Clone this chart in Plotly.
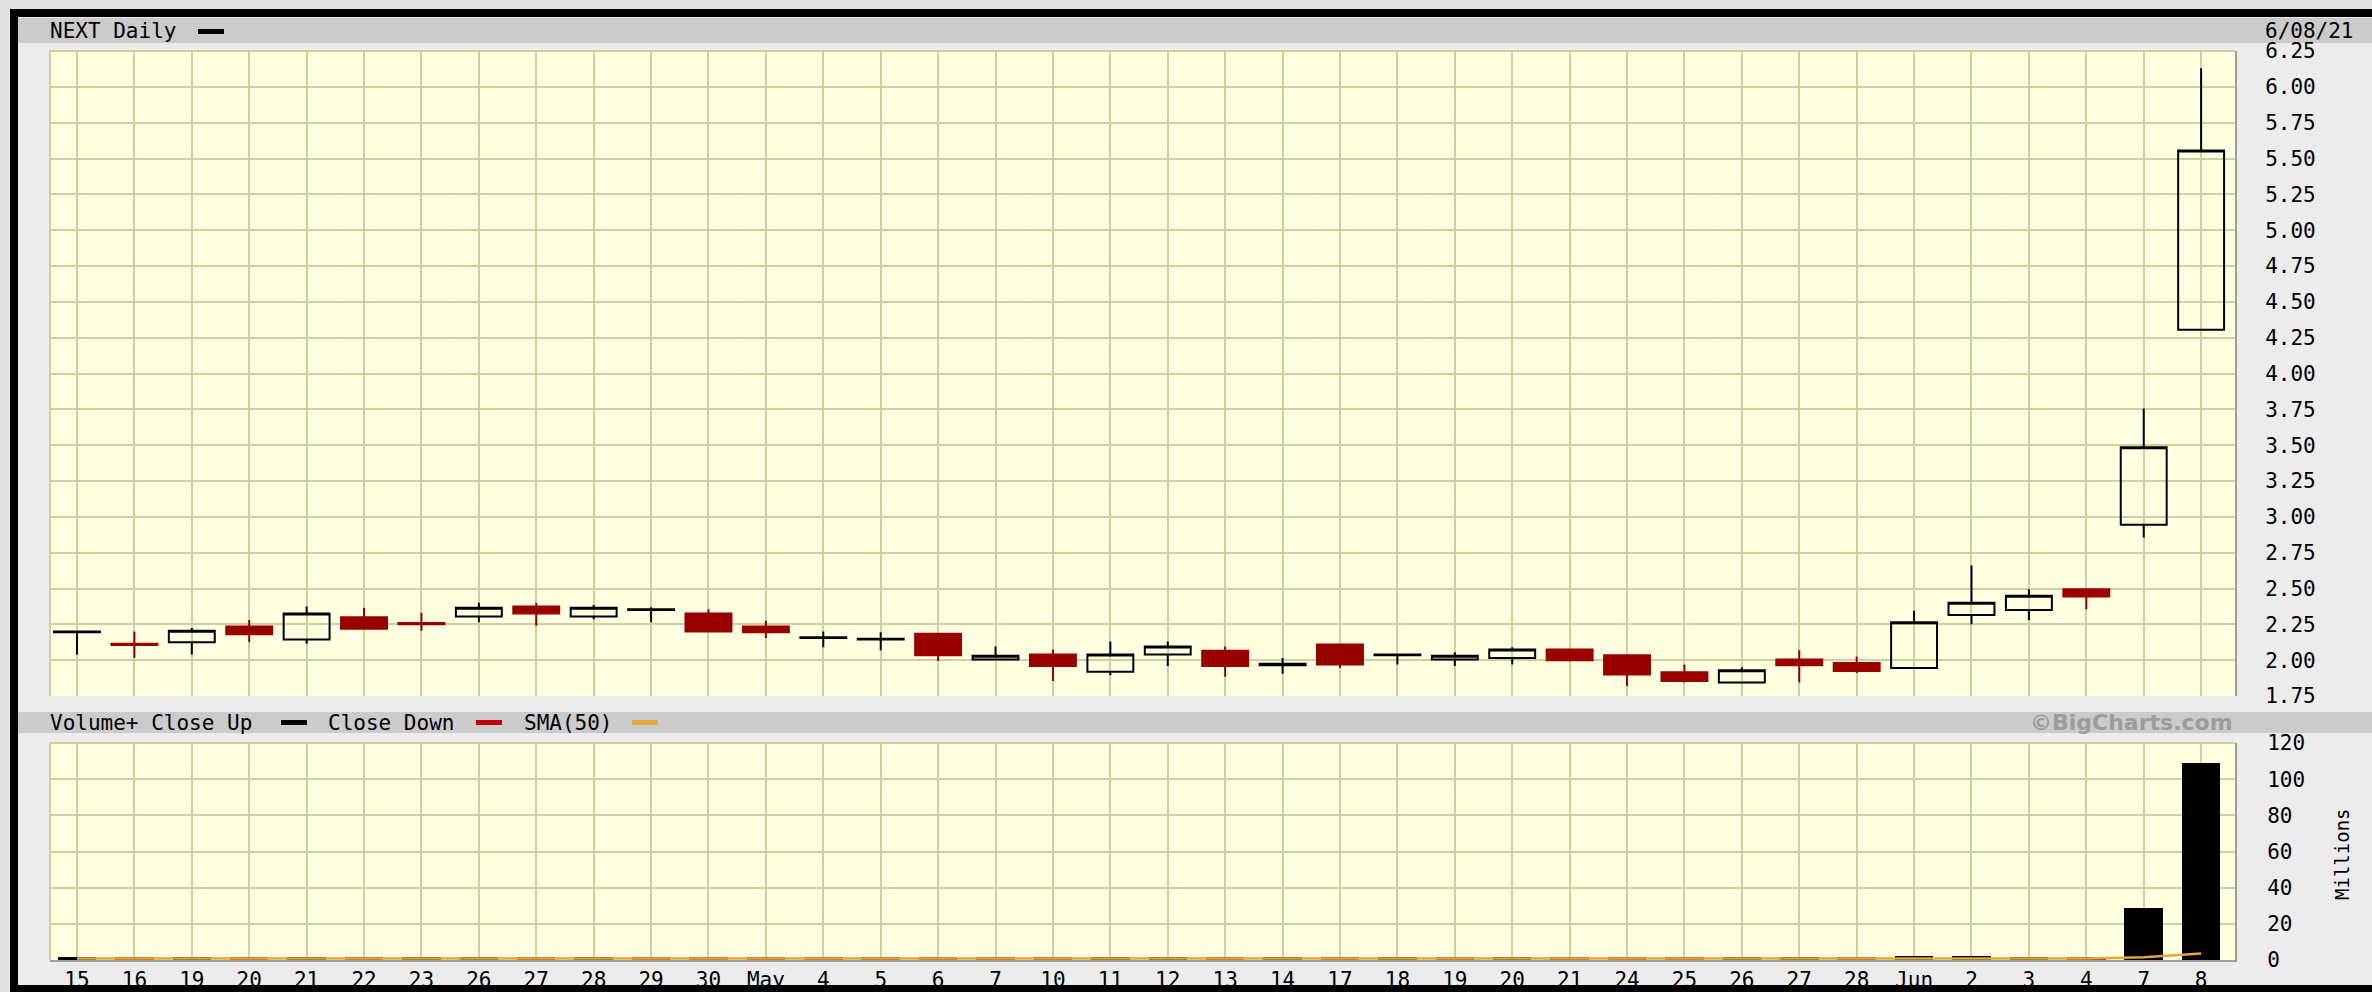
import plotly.graph_objects as go

W, H = 2372, 992

# ---------------- data ----------------
dates = ["2021-04-15", "2021-04-16", "2021-04-19", "2021-04-20", "2021-04-21", "2021-04-22",
         "2021-04-23", "2021-04-26", "2021-04-27", "2021-04-28", "2021-04-29", "2021-04-30",
         "2021-05-03", "2021-05-04", "2021-05-05", "2021-05-06", "2021-05-07", "2021-05-10",
         "2021-05-11", "2021-05-12", "2021-05-13", "2021-05-14", "2021-05-17", "2021-05-18",
         "2021-05-19", "2021-05-20", "2021-05-21", "2021-05-24", "2021-05-25", "2021-05-26",
         "2021-05-27", "2021-05-28", "2021-06-01", "2021-06-02", "2021-06-03", "2021-06-04",
         "2021-06-07", "2021-06-08"]
tick_labels = ["15", "16", "19", "20", "21", "22", "23", "26", "27", "28", "29", "30",
               "May", "4", "5", "6", "7", "10", "11", "12", "13", "14", "17", "18",
               "19", "20", "21", "24", "25", "26", "27", "28", "Jun", "2", "3", "4", "7", "8"]

open_ = [2.195, 2.115, 2.125, 2.235, 2.145, 2.300, 2.260, 2.305, 2.375, 2.305, 2.350, 2.325,
         2.235, 2.155, 2.145, 2.185, 2.005, 2.040, 1.920, 2.040, 2.065, 1.965, 2.110, 2.035,
         2.005, 2.015, 2.075, 2.035, 1.915, 1.845, 2.005, 1.980, 1.945, 2.315, 2.350, 2.495,
         2.945, 4.305]
high = [2.205, 2.200, 2.225, 2.280, 2.375, 2.365, 2.330, 2.400, 2.400, 2.385, 2.370, 2.355,
        2.275, 2.200, 2.195, 2.185, 2.095, 2.075, 2.130, 2.130, 2.095, 2.015, 2.110, 2.045,
        2.055, 2.090, 2.075, 2.035, 1.970, 1.950, 2.070, 2.025, 2.345, 2.660, 2.495, 2.495,
        3.755, 6.130]
low = [2.040, 2.015, 2.040, 2.125, 2.115, 2.220, 2.205, 2.265, 2.240, 2.285, 2.265, 2.200,
       2.155, 2.090, 2.070, 1.995, 2.005, 1.855, 1.895, 1.960, 1.885, 1.905, 1.945, 1.970,
       1.960, 1.970, 1.990, 1.820, 1.845, 1.845, 1.845, 1.910, 1.945, 2.250, 2.280, 2.355,
       2.855, 4.305]
close = [2.200, 2.105, 2.205, 2.180, 2.325, 2.220, 2.250, 2.365, 2.325, 2.365, 2.355, 2.200,
         2.195, 2.160, 2.150, 2.035, 2.030, 1.960, 2.040, 2.095, 1.960, 1.975, 1.970, 2.040,
         2.030, 2.075, 2.000, 1.900, 1.855, 1.930, 1.965, 1.925, 2.265, 2.400, 2.450, 2.445,
         3.485, 5.555]
volume_m = [1.8, 1.6, 1.5, 1.7, 1.9, 1.6, 1.5, 1.7, 1.6, 1.5, 1.5, 1.8,
            1.6, 1.5, 1.5, 1.7, 1.5, 1.9, 1.7, 1.5, 1.6, 1.5, 1.7, 1.5,
            1.4, 1.5, 1.5, 1.9, 1.6, 1.5, 1.7, 1.5, 2.0, 2.1, 1.8, 1.7,
            28.5, 109.0]
sma50_m = [0.8, 0.8, 0.8, 0.8, 0.8, 0.8, 0.8, 0.8, 0.8, 0.8, 0.8, 0.8,
           0.8, 0.8, 0.8, 0.8, 0.8, 0.8, 0.8, 0.8, 0.8, 0.8, 0.8, 0.8,
           0.8, 0.8, 0.8, 0.8, 0.8, 0.8, 0.8, 0.8, 0.8, 0.8, 0.8, 0.8,
           1.5, 3.6]

# ---------------- styling ----------------
FONT = "DejaVu Sans Mono"
FS = 21
PLOT_BG = "#ffffe2"
GRID = "#d0d09e"
EDGE = "#9c9c9c"
UP = "#000000"
DOWN = "#990000"
VOL_DOWN = "#b00000"
SMA_C = "#e3a83a"
HEADER_BG = "#cbcbcb"
INNER_BG = "#ececec"
OUTER_BG = "#e2e2e2"


def px(x):
    return x / W


def py(y):
    return 1 - y / H


X0, X1 = 50, 2235
P_TOP, P_BOT = 51, 696
V_TOP, V_BOT = 743, 960

vol_colors = [UP] + [UP if close[i] >= close[i - 1] else VOL_DOWN for i in range(1, len(close))]

fig = go.Figure()

fig.add_trace(go.Candlestick(
    x=dates, open=open_, high=high, low=low, close=close,
    xaxis="x", yaxis="y",
    increasing=dict(line=dict(color=UP, width=2), fillcolor="rgba(0,0,0,0)"),
    decreasing=dict(line=dict(color=DOWN, width=2), fillcolor=DOWN),
    whiskerwidth=0, showlegend=False, hoverinfo="x+y",
))

fig.add_trace(go.Bar(
    x=dates, y=volume_m, xaxis="x2", yaxis="y2",
    marker=dict(color=vol_colors, line=dict(width=0)),
    width=0.67, showlegend=False,
))

fig.add_trace(go.Scatter(
    x=dates, y=sma50_m, xaxis="x2", yaxis="y2", mode="lines",
    line=dict(color=SMA_C, width=2.5), showlegend=False,
))

x_range = [-0.47, 37.59]
common_x = dict(
    type="category", categoryorder="array", categoryarray=dates,
    range=x_range, domain=[px(X0), px(X1)],
    showgrid=True, gridcolor=GRID, gridwidth=2,
    tickvals=dates, ticktext=tick_labels, ticks="",
    zeroline=False, fixedrange=True,
)

tickfont = dict(family=FONT, size=FS, color="#000000")

fig.update_layout(
    width=W, height=H,
    margin=dict(l=0, r=0, t=0, b=0),
    paper_bgcolor=INNER_BG, plot_bgcolor=PLOT_BG,
    template="none",
    font=dict(family=FONT, size=FS, color="#000000"),
    bargap=0, boxgap=0.2, boxgroupgap=0,
    xaxis=dict(common_x, anchor="y", showticklabels=False,
               rangeslider=dict(visible=False), showline=False),
    yaxis=dict(domain=[py(P_BOT), py(P_TOP)], range=[1.75, 6.25], side="right",
               tick0=1.75, dtick=0.25, tickformat=".2f",
               showgrid=True, gridcolor=GRID, gridwidth=2, ticks="",
               ticklabelstandoff=24, showline=True, linecolor=EDGE, linewidth=2,
               zeroline=False, anchor="x", fixedrange=True, tickfont=tickfont),
    xaxis2=dict(common_x, anchor="y2", showticklabels=True,
                showline=True, linecolor=EDGE, linewidth=2, tickfont=tickfont),
    yaxis2=dict(domain=[py(V_BOT), py(V_TOP)], range=[0, 120], side="right",
                tick0=0, dtick=20, showgrid=True, gridcolor=GRID, gridwidth=2,
                ticks="", ticklabelstandoff=26, showline=True, linecolor=EDGE,
                linewidth=2, zeroline=False, anchor="x2", fixedrange=True,
                tickfont=tickfont),
)

shapes = []


def rect(x0, y0, x1, y1, color, layer="below"):
    shapes.append(dict(type="rect", xref="paper", yref="paper",
                       x0=px(x0), x1=px(x1), y0=py(y1), y1=py(y0),
                       fillcolor=color, line=dict(width=0), layer=layer))


def line(x0, y0, x1, y1, color, width):
    shapes.append(dict(type="line", xref="paper", yref="paper",
                       x0=px(x0), x1=px(x1), y0=py(y0), y1=py(y1),
                       line=dict(color=color, width=width), layer="above"))


# outer light margin and black frame
rect(0, 0, W, 9, OUTER_BG)
rect(0, 0, 10, H, OUTER_BG)
rect(10, 9, W, 17, "#000000")
rect(10, 9, 18, H, "#000000")
rect(10, 985, W, H, "#000000")
# header bars
rect(18, 18, W, 43, HEADER_BG)
rect(18, 712, W, 733, HEADER_BG)
# legend swatches
rect(198, 29, 224, 34, "#000000")
rect(281, 720, 307, 725, "#000000")
rect(476, 720, 502, 725, "#c00000")
rect(632, 720, 658, 725, SMA_C)
# top/left plot edges
line(X0, P_TOP, X1, P_TOP, GRID, 2)
line(X0, P_TOP, X0, P_BOT, GRID, 2)
line(X0, V_TOP, X1, V_TOP, GRID, 2)
line(X0, V_TOP, X0, V_BOT, GRID, 2)

fig.update_layout(shapes=shapes)

ann = []


def text(x, y, s, xanchor="left", size=FS, color="#000000", family=FONT, angle=0):
    ann.append(dict(xref="paper", yref="paper", x=px(x), y=py(y), text=s,
                    xanchor=xanchor, yanchor="middle", showarrow=False,
                    textangle=angle, font=dict(family=family, size=size, color=color)))


text(48, 31, "NEXT Daily")
text(2356, 31, "6/08/21", xanchor="right")
text(48, 723, "Volume+ Close Up")
text(326, 723, "Close Down")
text(522, 723, "SMA(50)")
text(2235, 722, "<b>©BigCharts.com</b>", xanchor="right", size=22, color="#9c9c9c",
     family="DejaVu Sans")
text(2342, 854, "Millions", xanchor="center", size=19, angle=-90)

fig.update_layout(annotations=ann)

fig.write_html("out.html", config={"displayModeBar": False},
               post_script="document.body.style.margin='0';document.body.style.overflow='hidden';")
